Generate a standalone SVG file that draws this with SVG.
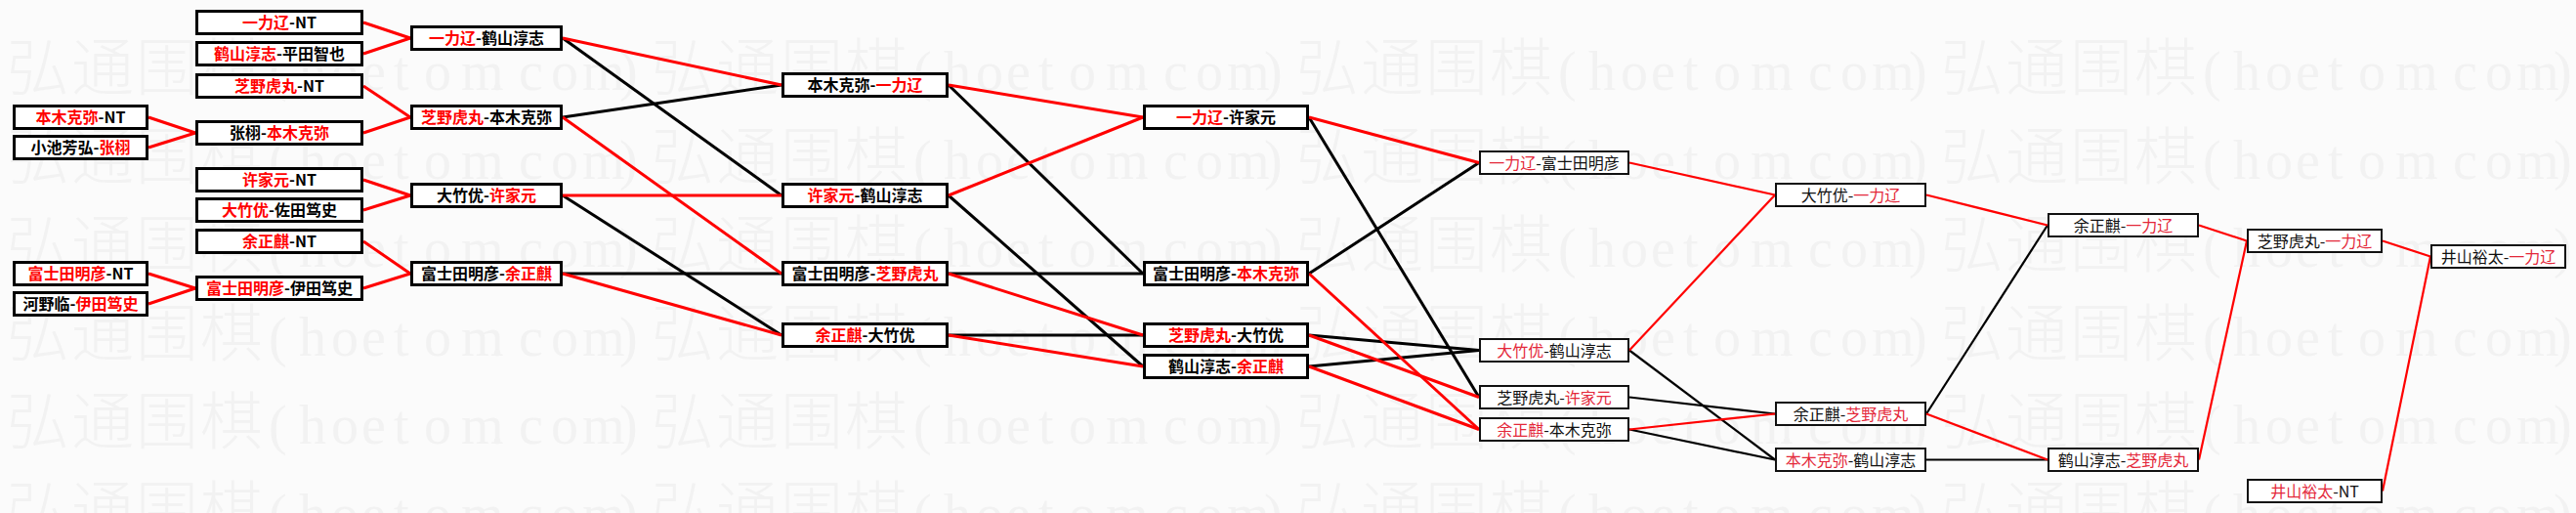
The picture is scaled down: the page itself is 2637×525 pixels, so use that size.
<svg xmlns="http://www.w3.org/2000/svg" xmlns:xlink="http://www.w3.org/1999/xlink" width="2637" height="525" viewBox="0 0 2637 525">
<style>
.bg{fill:#fbfbfb}
.wm{font-family:"Noto Sans CJK SC",sans-serif;font-size:64px;font-weight:300;fill:#f2f2f2}
.wl{font-family:"Liberation Serif",serif;font-size:56px;font-weight:normal}
.k rect{fill:#fff;stroke:#000;stroke-width:3}
.t rect{fill:#fff;stroke:#111;stroke-width:2}
.k text{font-family:"Noto Sans CJK SC",sans-serif;font-size:16px;font-weight:bold;text-anchor:middle;fill:#000}
.t text{font-family:"Noto Sans CJK SC",sans-serif;font-size:16px;font-weight:normal;text-anchor:middle;fill:#111}
.k .r{fill:#f00}
.t .r{fill:#e4283a}
#connectors line{fill:none;stroke-width:3}
#connectors .thin line{stroke-width:2.2}
#connectors .R{stroke:#f00}
#connectors .B{stroke:#000}
</style>
<defs>
<text id="wm" class="wm"><tspan x="7 73 139 205">弘通围棋</tspan><tspan class="wl" x="275 306 339 370 403 434 472 502 531 564 596 634">(hoetom.com)</tspan><tspan x="667 733 799 865">弘通围棋</tspan><tspan class="wl" x="935 966 999 1030 1063 1094 1132 1162 1191 1224 1256 1294">(hoetom.com)</tspan><tspan x="1327 1393 1459 1525">弘通围棋</tspan><tspan class="wl" x="1595 1626 1659 1690 1723 1754 1792 1822 1851 1884 1916 1954">(hoetom.com)</tspan><tspan x="1987 2053 2119 2185">弘通围棋</tspan><tspan class="wl" x="2255 2286 2319 2350 2383 2414 2452 2482 2511 2544 2576 2614">(hoetom.com)</tspan></text>
</defs>
<rect class="bg" x="0" y="0" width="2637" height="525"/>
<g id="watermark">
<use xlink:href="#wm" y="92"/>
<use xlink:href="#wm" y="182.5"/>
<use xlink:href="#wm" y="273"/>
<use xlink:href="#wm" y="363.5"/>
<use xlink:href="#wm" y="454"/>
<use xlink:href="#wm" y="544.5"/>
</g>
<g id="connectors">
<g>
<line class="R" x1="152" y1="120" x2="200" y2="136"/>
<line class="R" x1="152" y1="151" x2="200" y2="136"/>
<line class="R" x1="152" y1="280" x2="200" y2="295"/>
<line class="R" x1="152" y1="311" x2="200" y2="295"/>
<line class="R" x1="372" y1="23" x2="420" y2="39"/>
<line class="R" x1="372" y1="55" x2="420" y2="39"/>
<line class="R" x1="372" y1="88" x2="420" y2="120"/>
<line class="R" x1="372" y1="136" x2="420" y2="120"/>
<line class="R" x1="372" y1="184" x2="420" y2="200"/>
<line class="R" x1="372" y1="215" x2="420" y2="200"/>
<line class="R" x1="372" y1="247" x2="420" y2="280"/>
<line class="R" x1="372" y1="295" x2="420" y2="280"/>
<line class="B" x1="576" y1="39" x2="800" y2="200"/>
<line class="B" x1="576" y1="120" x2="800" y2="87"/>
<line class="B" x1="576" y1="200" x2="800" y2="343"/>
<line class="B" x1="576" y1="280" x2="800" y2="280"/>
<line class="R" x1="576" y1="39" x2="800" y2="87"/>
<line class="R" x1="576" y1="120" x2="800" y2="280"/>
<line class="R" x1="576" y1="200" x2="800" y2="200"/>
<line class="R" x1="576" y1="280" x2="800" y2="343"/>
<line class="B" x1="971" y1="87" x2="1170" y2="280"/>
<line class="B" x1="971" y1="200" x2="1170" y2="375"/>
<line class="B" x1="971" y1="280" x2="1170" y2="280"/>
<line class="B" x1="971" y1="343" x2="1170" y2="343"/>
<line class="R" x1="971" y1="87" x2="1170" y2="120"/>
<line class="R" x1="971" y1="200" x2="1170" y2="120"/>
<line class="R" x1="971" y1="280" x2="1170" y2="343"/>
<line class="R" x1="971" y1="343" x2="1170" y2="375"/>
<line class="B" x1="1340" y1="120" x2="1514" y2="406.5"/>
<line class="B" x1="1340" y1="280" x2="1514" y2="166.5"/>
<line class="B" x1="1340" y1="343" x2="1514" y2="358.5"/>
<line class="B" x1="1340" y1="375" x2="1514" y2="358.5"/>
<line class="R" x1="1340" y1="120" x2="1514" y2="166.5"/>
<line class="R" x1="1340" y1="280" x2="1514" y2="439.5"/>
<line class="R" x1="1340" y1="343" x2="1514" y2="406.5"/>
<line class="R" x1="1340" y1="375" x2="1514" y2="439.5"/>
</g>
<g class="thin">
<line class="B" x1="1668" y1="358.5" x2="1817" y2="470.5"/>
<line class="B" x1="1668" y1="406.5" x2="1817" y2="423.5"/>
<line class="B" x1="1668" y1="439.5" x2="1817" y2="470.5"/>
<line class="R" x1="1668" y1="166.5" x2="1817" y2="199.5"/>
<line class="R" x1="1668" y1="358.5" x2="1817" y2="199.5"/>
<line class="R" x1="1668" y1="439.5" x2="1817" y2="423.5"/>
<line class="B" x1="1972" y1="423.5" x2="2096" y2="230.5"/>
<line class="B" x1="1972" y1="470.5" x2="2096" y2="470.5"/>
<line class="R" x1="1972" y1="199.5" x2="2096" y2="230.5"/>
<line class="R" x1="1972" y1="423.5" x2="2096" y2="470.5"/>
<line class="R" x1="2251" y1="230.5" x2="2300" y2="246.5"/>
<line class="R" x1="2251" y1="470.5" x2="2300" y2="246.5"/>
<line class="R" x1="2439" y1="246.5" x2="2488" y2="262.5"/>
<line class="R" x1="2439" y1="502.5" x2="2488" y2="262.5"/>
</g>
</g>
<g id="a1" class="k"><rect x="14.5" y="108.5" width="136" height="23"/><text x="82.5" y="126"><tspan class="r">本木克弥</tspan>-NT</text></g>
<g id="a2" class="k"><rect x="14.5" y="139.5" width="136" height="23"/><text x="82.5" y="157">小池芳弘-<tspan class="r">张栩</tspan></text></g>
<g id="a3" class="k"><rect x="14.5" y="268.5" width="136" height="23"/><text x="82.5" y="286"><tspan class="r">富士田明彦</tspan>-NT</text></g>
<g id="a4" class="k"><rect x="14.5" y="299.5" width="136" height="23"/><text x="82.5" y="317">河野临-<tspan class="r">伊田笃史</tspan></text></g>

<g id="b1" class="k"><rect x="201.5" y="11.5" width="169" height="23"/><text x="286" y="29"><tspan class="r">一力辽</tspan>-NT</text></g>
<g id="b2" class="k"><rect x="201.5" y="43.5" width="169" height="23"/><text x="286" y="61"><tspan class="r">鹤山淳志</tspan>-平田智也</text></g>
<g id="b3" class="k"><rect x="201.5" y="76.5" width="169" height="23"/><text x="286" y="94"><tspan class="r">芝野虎丸</tspan>-NT</text></g>
<g id="b4" class="k"><rect x="201.5" y="124.5" width="169" height="23"/><text x="286" y="142">张栩-<tspan class="r">本木克弥</tspan></text></g>
<g id="b5" class="k"><rect x="201.5" y="172.5" width="169" height="23"/><text x="286" y="190"><tspan class="r">许家元</tspan>-NT</text></g>
<g id="b6" class="k"><rect x="201.5" y="203.5" width="169" height="23"/><text x="286" y="221"><tspan class="r">大竹优</tspan>-佐田笃史</text></g>
<g id="b7" class="k"><rect x="201.5" y="235.5" width="169" height="23"/><text x="286" y="253"><tspan class="r">余正麒</tspan>-NT</text></g>
<g id="b8" class="k"><rect x="201.5" y="283.5" width="169" height="23"/><text x="286" y="301"><tspan class="r">富士田明彦</tspan>-伊田笃史</text></g>

<g id="c1" class="k"><rect x="421.5" y="27.5" width="153" height="23"/><text x="498" y="45"><tspan class="r">一力辽</tspan>-鹤山淳志</text></g>
<g id="c2" class="k"><rect x="421.5" y="108.5" width="153" height="23"/><text x="498" y="126"><tspan class="r">芝野虎丸</tspan>-本木克弥</text></g>
<g id="c3" class="k"><rect x="421.5" y="188.5" width="153" height="23"/><text x="498" y="206">大竹优-<tspan class="r">许家元</tspan></text></g>
<g id="c4" class="k"><rect x="421.5" y="268.5" width="153" height="23"/><text x="498" y="286">富士田明彦-<tspan class="r">余正麒</tspan></text></g>

<g id="d1" class="k"><rect x="801.5" y="75.5" width="168" height="23"/><text x="885.5" y="93">本木克弥-<tspan class="r">一力辽</tspan></text></g>
<g id="d2" class="k"><rect x="801.5" y="188.5" width="168" height="23"/><text x="885.5" y="206"><tspan class="r">许家元</tspan>-鹤山淳志</text></g>
<g id="d3" class="k"><rect x="801.5" y="268.5" width="168" height="23"/><text x="885.5" y="286">富士田明彦-<tspan class="r">芝野虎丸</tspan></text></g>
<g id="d4" class="k"><rect x="801.5" y="331.5" width="168" height="23"/><text x="885.5" y="349"><tspan class="r">余正麒</tspan>-大竹优</text></g>

<g id="e1" class="k"><rect x="1171.5" y="108.5" width="167" height="23"/><text x="1255" y="126"><tspan class="r">一力辽</tspan>-许家元</text></g>
<g id="e2" class="k"><rect x="1171.5" y="268.5" width="167" height="23"/><text x="1255" y="286">富士田明彦-<tspan class="r">本木克弥</tspan></text></g>
<g id="e3" class="k"><rect x="1171.5" y="331.5" width="167" height="23"/><text x="1255" y="349"><tspan class="r">芝野虎丸</tspan>-大竹优</text></g>
<g id="e4" class="k"><rect x="1171.5" y="363.5" width="167" height="23"/><text x="1255" y="381">鹤山淳志-<tspan class="r">余正麒</tspan></text></g>

<g id="f1" class="t"><rect x="1515" y="155" width="152" height="23"/><text x="1591" y="172.5"><tspan class="r">一力辽</tspan>-富士田明彦</text></g>
<g id="f2" class="t"><rect x="1515" y="347" width="152" height="23"/><text x="1591" y="364.5"><tspan class="r">大竹优</tspan>-鹤山淳志</text></g>
<g id="f3" class="t"><rect x="1515" y="395" width="152" height="23"/><text x="1591" y="412.5">芝野虎丸-<tspan class="r">许家元</tspan></text></g>
<g id="f4" class="t"><rect x="1515" y="428" width="152" height="23"/><text x="1591" y="445.5"><tspan class="r">余正麒</tspan>-本木克弥</text></g>

<g id="g1" class="t"><rect x="1818" y="188" width="153" height="23"/><text x="1894.5" y="205.5">大竹优-<tspan class="r">一力辽</tspan></text></g>
<g id="g2" class="t"><rect x="1818" y="412" width="153" height="23"/><text x="1894.5" y="429.5">余正麒-<tspan class="r">芝野虎丸</tspan></text></g>
<g id="g3" class="t"><rect x="1818" y="459" width="153" height="23"/><text x="1894.5" y="476.5"><tspan class="r">本木克弥</tspan>-鹤山淳志</text></g>

<g id="h1" class="t"><rect x="2097" y="219" width="153" height="23"/><text x="2173.5" y="236.5">余正麒-<tspan class="r">一力辽</tspan></text></g>
<g id="h2" class="t"><rect x="2097" y="459" width="153" height="23"/><text x="2173.5" y="476.5">鹤山淳志-<tspan class="r">芝野虎丸</tspan></text></g>

<g id="i1" class="t"><rect x="2301" y="235" width="137" height="23"/><text x="2369.5" y="252.5">芝野虎丸-<tspan class="r">一力辽</tspan></text></g>
<g id="i2" class="t"><rect x="2301" y="491" width="137" height="23"/><text x="2369.5" y="508.5"><tspan class="r">井山裕太</tspan>-NT</text></g>

<g id="j1" class="t"><rect x="2489" y="251" width="137" height="23"/><text x="2557.5" y="268.5">井山裕太-<tspan class="r">一力辽</tspan></text></g>
</svg>
